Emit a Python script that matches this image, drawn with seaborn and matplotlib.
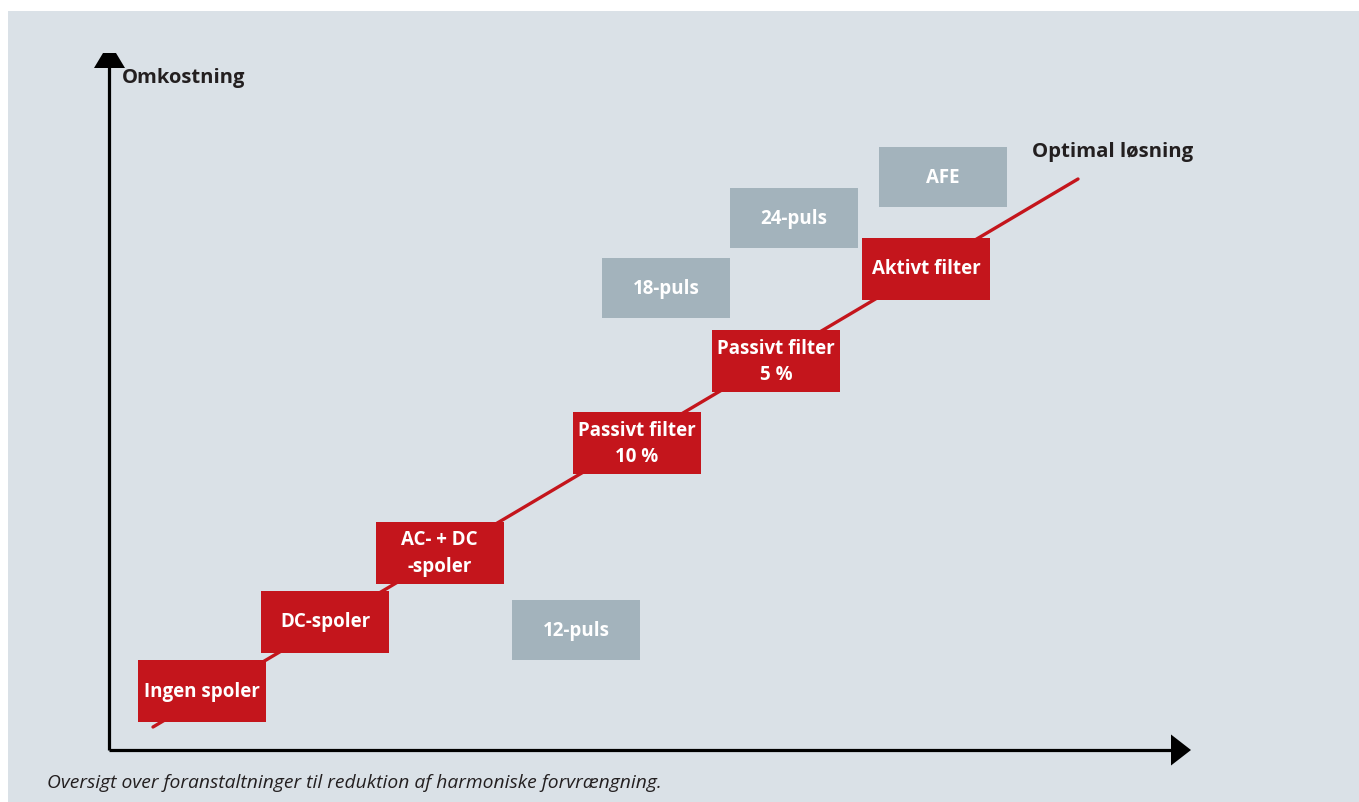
import matplotlib
matplotlib.use("Agg")
import matplotlib.pyplot as plt
from matplotlib.patches import Rectangle
import seaborn as sns

# Diagram values, in pixel-like units measured from the axis corner
# (x = effect on harmonics, y = cost)
red_labels = ["Ingen spoler", "DC-spoler", "AC- + DC\n-spoler",
              "Passivt filter\n10 %", "Passivt filter\n5 %", "Aktivt filter"]
red_x = [94, 217, 331.5, 529, 668, 818]
red_y = [59, 128.5, 197.5, 307, 389, 481.5]

grey_labels = ["12-puls", "18-puls", "24-puls", "AFE"]
grey_x = [468, 558, 686, 835]
grey_y = [120, 462, 532, 573]

trend_x = [45, 970]
trend_y = [23, 571]

box_w = 128
red_h = 62
grey_h = 60

RED = "#C4151C"
GREY = "#A3B3BC"
PANEL = "#DAE1E7"
DARK = "#231F20"

sns.set_theme(style="white")
plt.rcParams["font.family"] = ["Open Sans", "DejaVu Sans"]

W, H = 1359, 803
fig = plt.figure(figsize=(W / 100, H / 100), dpi=100, facecolor="white")
fig.patches.append(Rectangle((8 / W, 0), 1, (H - 12) / H, transform=fig.transFigure,
                             facecolor=PANEL, edgecolor="none", zorder=-5))

# axis corner at pixel (108, 751), y arrow tip at 54, x arrow tip at 1191
x0, y0 = 108, 751
xw, yh = 1191 - x0, y0 - 54
ax = fig.add_axes([x0 / W, (H - y0) / H, xw / W, yh / H])
ax.set_xlim(0, xw)
ax.set_ylim(0, yh)
ax.set_facecolor("none")
for s in ax.spines.values():
    s.set_visible(False)
ax.set_xticks([])
ax.set_yticks([])

# trend line
sns.lineplot(x=trend_x, y=trend_y, color=RED, linewidth=2.4, ax=ax, zorder=2)

# boxes
ax.bar(red_x, red_h, bottom=[v - red_h / 2 for v in red_y], width=box_w,
       color=RED, edgecolor="none", zorder=3)
ax.bar(grey_x, grey_h, bottom=[v - grey_h / 2 for v in grey_y], width=box_w,
       color=GREY, edgecolor="none", zorder=3)

for lab, x, y in zip(red_labels, red_x, red_y):
    ax.text(x, y, lab, ha="center", va="center", color="white", fontsize=13.5,
            fontweight="bold", linespacing=1.45, zorder=4)
for lab, x, y in zip(grey_labels, grey_x, grey_y):
    ax.text(x, y, lab, ha="center", va="center", color="white", fontsize=13.5,
            fontweight="bold", zorder=4)

# axes with arrow heads
lw = 2.3
ax.plot([1, 1], [0, yh - 14], color="black", lw=lw, clip_on=False, solid_capstyle="butt")
ax.plot([1, xw - 19], [0, 0], color="black", lw=lw, clip_on=False, solid_capstyle="butt")
ax.fill([-14, 17, 8, -5], [yh - 15, yh - 15, yh, yh], color="black", clip_on=False, lw=0)
ax.fill([xw - 20, xw - 20, xw], [-15.5, 15.5, 0], color="black", clip_on=False, lw=0)

ax.text(14, yh - 24, "Omkostning", ha="left", va="center", fontsize=14.5,
        fontweight="bold", color=DARK)
ax.text(1032 - x0, y0 - 152, "Optimal løsning", ha="left", va="center",
        fontsize=14.7, fontweight="bold", color=DARK)

fig.text(47 / W, 1 - 783 / H, "Oversigt over foranstaltninger til reduktion af harmoniske forvrængning.",
         ha="left", va="center", fontsize=13.9, style="italic", color=DARK)

fig.savefig("out.png", dpi=100, facecolor="white")
